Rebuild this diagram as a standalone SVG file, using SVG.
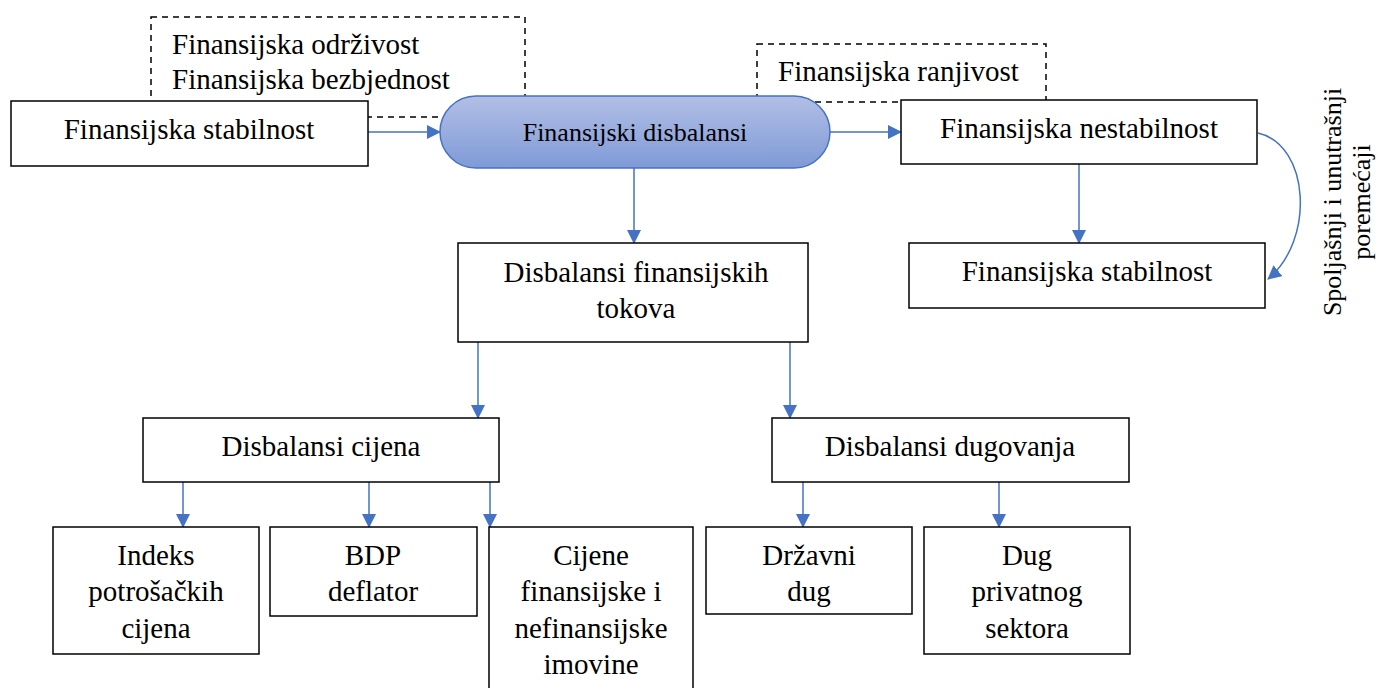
<svg xmlns="http://www.w3.org/2000/svg" width="1379" height="688" viewBox="0 0 1379 688">
<defs>
<linearGradient id="pg" x1="0" y1="0" x2="0" y2="1">
<stop offset="0" stop-color="#b2bfe5"/>
<stop offset="1" stop-color="#7f9ad7"/>
</linearGradient>
<marker id="ah" markerWidth="14" markerHeight="14" viewBox="0 0 14 14" refX="13" refY="7" orient="auto" markerUnits="userSpaceOnUse">
<path d="M0,0 L14,7 L0,14 Z" fill="#4472c4"/>
</marker>
<style>
.box{fill:#fff;stroke:#000;stroke-width:1.5}
.dash{fill:none;stroke:#000;stroke-width:1.5;stroke-dasharray:6,5}
text{font-family:'Liberation Serif','Times New Roman',serif;font-size:29px;fill:#000}
.t{text-anchor:middle}
.s{font-size:26px}
.c{fill:none;stroke:#4472c4;stroke-width:1.5;marker-end:url(#ah)}
</style>
</defs>
<rect class="dash" x="151" y="17" width="374" height="100"/>
<text x="172" y="54">Finansijska održivost</text>
<text x="172" y="89">Finansijska bezbjednost</text>
<rect class="dash" x="757" y="44" width="289" height="58"/>
<text x="778" y="81">Finansijska ranjivost</text>
<g id="connectors">
<path class="c" d="M368,132 L440,132"/>
<path class="c" d="M830,132 L901,132"/>
<path class="c" d="M1079,164 L1079,243"/>
<path class="c" d="M1258,133 C1310,145 1315,240 1268,279"/>
<path class="c" d="M634,168 L634,243"/>
<path class="c" d="M478,342 L478,418"/>
<path class="c" d="M790,342 L790,418"/>
<path class="c" d="M183,482 L183,527"/>
<path class="c" d="M369,482 L369,527"/>
<path class="c" d="M490,482 L490,527"/>
<path class="c" d="M803,482 L803,527"/>
<path class="c" d="M999,482 L999,527"/>
</g>
<g id="n-stab1"><rect class="box" x="11" y="101" width="357" height="65"/><text class="t" x="189" y="139">Finansijska stabilnost</text></g>
<g id="n-disb"><rect x="440" y="96" width="390" height="72" rx="36" fill="url(#pg)" stroke="#4472c4" stroke-width="1.5"/><text class="t s" x="635" y="141">Finansijski disbalansi</text></g>
<g id="n-nestab"><rect class="box" x="901" y="100" width="356" height="64"/><text class="t" x="1079" y="138">Finansijska nestabilnost</text></g>
<g id="n-stab2"><rect class="box" x="909" y="243" width="356" height="65"/><text class="t" x="1087" y="281">Finansijska stabilnost</text></g>
<g id="lbl-shock"><text class="t s" transform="translate(1341,202) rotate(-90)">Spoljašnji i unutrašnji</text><text class="t s" transform="translate(1370,202) rotate(-90)">poremećaji</text></g>
<g id="n-tokovi"><rect class="box" x="458" y="243" width="350" height="99"/><text class="t" x="636" y="282">Disbalansi finansijskih</text><text class="t" x="636" y="318">tokova</text></g>
<g id="n-cijena"><rect class="box" x="143" y="418" width="356" height="64"/><text class="t" x="321" y="456">Disbalansi cijena</text></g>
<g id="n-dug"><rect class="box" x="772" y="418" width="357" height="64"/><text class="t" x="950" y="456">Disbalansi dugovanja</text></g>
<g id="n-indeks"><rect class="box" x="53" y="527" width="206" height="127"/><text class="t" x="156" y="565">Indeks</text><text class="t" x="156" y="601">potrošačkih</text><text class="t" x="156" y="638">cijena</text></g>
<g id="n-bdp"><rect class="box" x="270" y="527" width="207" height="89"/><text class="t" x="373" y="565">BDP</text><text class="t" x="373" y="601">deflator</text></g>
<g id="n-imovina"><rect class="box" x="489" y="527" width="204" height="170"/><text class="t" x="591" y="565">Cijene</text><text class="t" x="591" y="601">finansijske i</text><text class="t" x="591" y="638">nefinansijske</text><text class="t" x="591" y="674">imovine</text></g>
<g id="n-drz"><rect class="box" x="706" y="527" width="206" height="87"/><text class="t" x="809" y="565">Državni</text><text class="t" x="809" y="601">dug</text></g>
<g id="n-priv"><rect class="box" x="924" y="527" width="206" height="127"/><text class="t" x="1027" y="565">Dug</text><text class="t" x="1027" y="601">privatnog</text><text class="t" x="1027" y="638">sektora</text></g>
</svg>
